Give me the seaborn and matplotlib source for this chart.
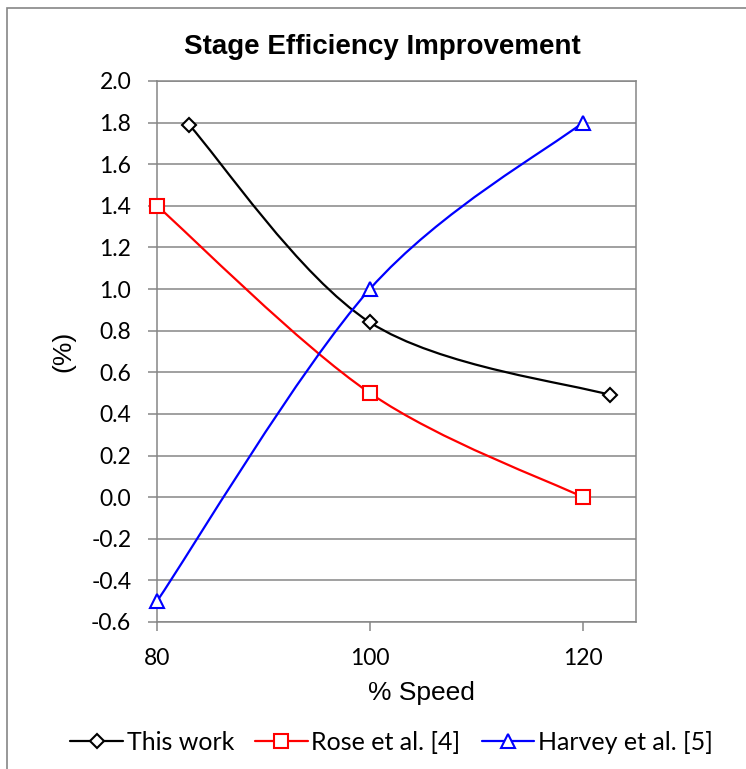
import matplotlib
matplotlib.use("Agg")
import matplotlib.pyplot as plt
import seaborn as sns
import numpy as np
from matplotlib.path import Path
from matplotlib.patches import PathPatch, Rectangle
from matplotlib.lines import Line2D

# data
this_work_x = [83.0, 100.0, 122.6]
this_work_y = [1.79, 0.84, 0.49]
rose_x = [80, 100, 120]
rose_y = [1.40, 0.50, 0.00]
harvey_x = [80, 100, 120]
harvey_y = [-0.50, 1.00, 1.80]
labels = ["This work", "Rose et al. [4]", "Harvey et al. [5]"]
y_ticks = [-0.6, -0.4, -0.2, 0.0, 0.2, 0.4, 0.6, 0.8, 1.0, 1.2, 1.4, 1.6, 1.8, 2.0]
x_ticks = [80, 100, 120]

sns.set_theme(style="white", rc={"text.color": "black", "axes.labelcolor": "black"})
plt.rcParams["font.family"] = ["Liberation Sans", "DejaVu Sans"]
lato = ["Lato", "DejaVu Sans"]

fig = plt.figure(figsize=(7.46, 7.69), dpi=100)
ax = fig.add_axes([0.2105, 0.1912, 0.642, 0.7035])

grid_c = "#868686"


def smooth_path(xs, ys):
    # Excel-style smoothed line: cubic Bezier with Catmull-Rom control points
    p = np.column_stack([xs, ys]).astype(float)
    n = len(p)
    verts = [p[0]]
    codes = [Path.MOVETO]
    for i in range(n - 1):
        p0 = p[max(i - 1, 0)]
        p1, p2 = p[i], p[i + 1]
        p3 = p[min(i + 2, n - 1)]
        c1 = p1 + (p2 - p0) / 6.0
        c2 = p2 - (p3 - p1) / 6.0
        verts += [c1, c2, p2]
        codes += [Path.CURVE4] * 3
    return Path(verts, codes)


series = [
    (this_work_x, this_work_y, "black", "D", 7.5),
    (rose_x, rose_y, "#ff0000", "s", 10.5),
    (harvey_x, harvey_y, "#0000ff", "^", 10.5),
]

handles = []
for (xs, ys, col, mk, ms), lab in zip(series, labels):
    ax.add_patch(PathPatch(smooth_path(xs, ys), facecolor="none",
                           edgecolor=col, lw=1.6, zorder=3))
    sns.lineplot(x=xs, y=ys, ax=ax, linestyle="none", marker=mk,
                 markersize=ms, markerfacecolor="white", markeredgecolor=col,
                 markeredgewidth=1.5, color=col, zorder=4, sort=False,
                 clip_on=False)
    handles.append(Line2D([], [], color=col, lw=1.6, marker=mk, markersize=ms,
                          markerfacecolor="white", markeredgecolor=col,
                          markeredgewidth=1.5, label=lab))

ax.set_xlim(80, 125)
ax.set_ylim(-0.6, 2.0)
ax.set_xticks(x_ticks)
ax.set_yticks(y_ticks)
ax.set_yticklabels([f"{v:.1f}" for v in y_ticks], family=lato,
                   fontsize=16.5, color="black")
ax.set_xticklabels([str(v) for v in x_ticks], family=lato,
                   fontsize=16.5, color="black")

ax.yaxis.grid(True, color=grid_c, lw=1.1)
ax.xaxis.grid(False)
for s in ax.spines.values():
    s.set_color(grid_c)
    s.set_linewidth(1.1)
ax.tick_params(axis="both", which="major", direction="out", length=6.5,
               width=1.1, color=grid_c, left=True, bottom=True)
ax.tick_params(axis="y", pad=12)
ax.tick_params(axis="x", pad=12.5)

ax.set_xlabel("% Speed", fontsize=19, color="black")
ax.xaxis.set_label_coords(0.553, -0.109)
ax.set_ylabel("(%)", fontsize=19, color="black")
ax.yaxis.set_label_coords(-0.171, 0.5)
ax.set_title("Stage Efficiency Improvement", fontsize=20, fontweight="bold",
             pad=19.5, x=0.47, color="black")

fig.legend(handles=handles, loc="center", bbox_to_anchor=(0.525, 0.035),
           ncol=3, frameon=False, handlelength=2.1, handletextpad=0.15,
           columnspacing=0.85, labelcolor="black",
           prop={"family": lato, "size": 18})

# outer chart border
fig.patches.append(Rectangle((0.009, -0.01), 1.1, 1.0, transform=fig.transFigure,
                             fill=False, edgecolor=grid_c, lw=1.2))

fig.savefig("out.png", dpi=100)
